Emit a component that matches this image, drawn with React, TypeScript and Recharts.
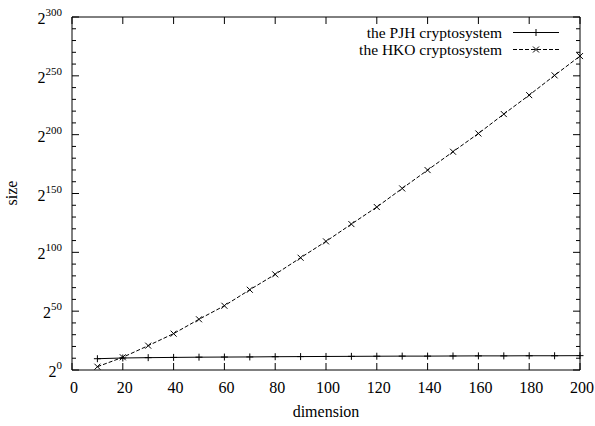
import { LineChart, Line, XAxis, YAxis, ReferenceArea } from "recharts";

const dimensions = [10, 20, 30, 40, 50, 60, 70, 80, 90, 100, 110, 120, 130, 140, 150, 160, 170, 180, 190, 200];
// log2 of the size
const pjhSize = [9.6, 10.2, 10.5, 10.7, 10.9, 11.0, 11.1, 11.3, 11.4, 11.5, 11.6, 11.7, 11.8, 11.8, 11.9, 12.0, 12.0, 12.1, 12.1, 12.2];
const hkoSize = [2.8, 10.8, 20.7, 30.9, 43.1, 54.6, 68.2, 81.3, 95.4, 109.3, 124.0, 138.5, 154.3, 169.9, 185.5, 201.0, 217.5, 233.6, 250.4, 266.8];

const xTicks = [0, 20, 40, 60, 80, 100, 120, 140, 160, 180, 200];
const yTicks = [0, 10, 20, 30, 40, 50, 60, 70, 80, 90, 100, 110, 120, 130, 140, 150, 160, 170, 180, 190, 200, 210, 220, 230, 240, 250, 260, 270, 280, 290, 300];
const yLabelStep = 50;

const seriesNames = ["the PJH cryptosystem", "the HKO cryptosystem"];

const W = 595;
const H = 426;
const PLOT = { left: 72, right: 580, top: 17, bottom: 370 };
const FONT = "Liberation Serif, Times New Roman, Times, DejaVu Serif, serif";
const txt = { fontFamily: FONT };

const data = dimensions.map((d, i) => ({ dimension: d, pjh: pjhSize[i], hko: hkoSize[i] }));

function plusPath(cx: number, cy: number, r: number) {
  return `M${cx - r},${cy}H${cx + r}M${cx},${cy - r}V${cy + r}`;
}

function crossPath(cx: number, cy: number, r: number) {
  return `M${cx - r},${cy - r}L${cx + r},${cy + r}M${cx - r},${cy + r}L${cx + r},${cy - r}`;
}

function PlusDot(props: any) {
  const { cx, cy, index } = props;
  if (cx == null || cy == null) return null;
  return <path key={`p-${index}`} d={plusPath(cx, cy, 3.5)} stroke="#000" strokeWidth={1} fill="none" />;
}

function CrossDot(props: any) {
  const { cx, cy, index } = props;
  if (cx == null || cy == null) return null;
  return <path key={`x-${index}`} d={crossPath(cx, cy, 3)} stroke="#000" strokeWidth={1} fill="none" />;
}

function YTick(props: any) {
  const { y, payload } = props;
  const major = payload.value % yLabelStep === 0;
  const len = major ? 7 : 4;
  return (
    <g>
      <line x1={PLOT.left} x2={PLOT.left + len} y1={y} y2={y} stroke="#000" />
      <line x1={PLOT.right} x2={PLOT.right - len} y1={y} y2={y} stroke="#000" />
      {major && (
        <text x={62} y={y + 7} textAnchor="end" style={txt} fill="#000">
          <tspan fontSize={16}>2</tspan>
          <tspan fontSize={11} dy={-8}>
            {payload.value}
          </tspan>
        </text>
      )}
    </g>
  );
}

function XTick(props: any) {
  const { x, payload } = props;
  return (
    <g>
      <line x1={x} x2={x} y1={PLOT.bottom} y2={PLOT.bottom - 7} stroke="#000" />
      <line x1={x} x2={x} y1={PLOT.top} y2={PLOT.top + 7} stroke="#000" />
      <text x={x + 2} y={393} textAnchor="middle" style={txt} fontSize={16} fill="#000">
        {payload.value}
      </text>
    </g>
  );
}

function Overlay() {
  const rows = [
    { name: seriesNames[0], y: 32.5, dash: undefined, marker: plusPath(536, 32.5, 3.5) },
    { name: seriesNames[1], y: 49.5, dash: "4 2", marker: crossPath(536, 49.5, 3) },
  ];
  return (
    <svg width={W} height={H} style={{ position: "absolute", left: 0, top: 0, pointerEvents: "none" }}>
      {rows.map((r) => (
        <g key={r.name}>
          <text x={502} y={r.y + 5} textAnchor="end" style={txt} fontSize={15.5} fill="#000">
            {r.name}
          </text>
          <line x1={513} x2={559} y1={r.y} y2={r.y} stroke="#000" strokeWidth={1} strokeDasharray={r.dash} />
          <path d={r.marker} stroke="#000" strokeWidth={1} fill="none" />
        </g>
      ))}
      <text x={326} y={417} textAnchor="middle" style={txt} fontSize={16} fill="#000">
        dimension
      </text>
      <text x={17} y={193} textAnchor="middle" style={txt} fontSize={16} fill="#000" transform="rotate(-90 17 193)">
        size
      </text>
    </svg>
  );
}

export default function App() {
  return (
    <div style={{ position: "absolute", left: 0, top: 0, width: W, height: H, background: "#fff", fontFamily: FONT }}>
      <LineChart width={W} height={H} data={data} margin={{ top: 17, right: 15, bottom: 0, left: 12 }}>
        <XAxis
          dataKey="dimension"
          type="number"
          domain={[0, 200]}
          ticks={xTicks}
          interval={0}
          height={56}
          axisLine={false}
          tickLine={false}
          tick={<XTick />}
        />
        <YAxis
          type="number"
          domain={[0, 300]}
          ticks={yTicks}
          interval={0}
          width={60}
          axisLine={false}
          tickLine={false}
          tick={<YTick />}
        />
        <ReferenceArea x1={0} x2={200} y1={0} y2={300} fill="none" fillOpacity={0} stroke="#000" strokeWidth={1} />
        <Line
          dataKey="pjh"
          name={seriesNames[0]}
          stroke="#000"
          strokeWidth={1}
          dot={PlusDot}
          activeDot={false}
          isAnimationActive={false}
        />
        <Line
          dataKey="hko"
          name={seriesNames[1]}
          stroke="#000"
          strokeWidth={1}
          strokeDasharray="4 2"
          dot={CrossDot}
          activeDot={false}
          isAnimationActive={false}
        />
      </LineChart>
      <Overlay />
    </div>
  );
}
